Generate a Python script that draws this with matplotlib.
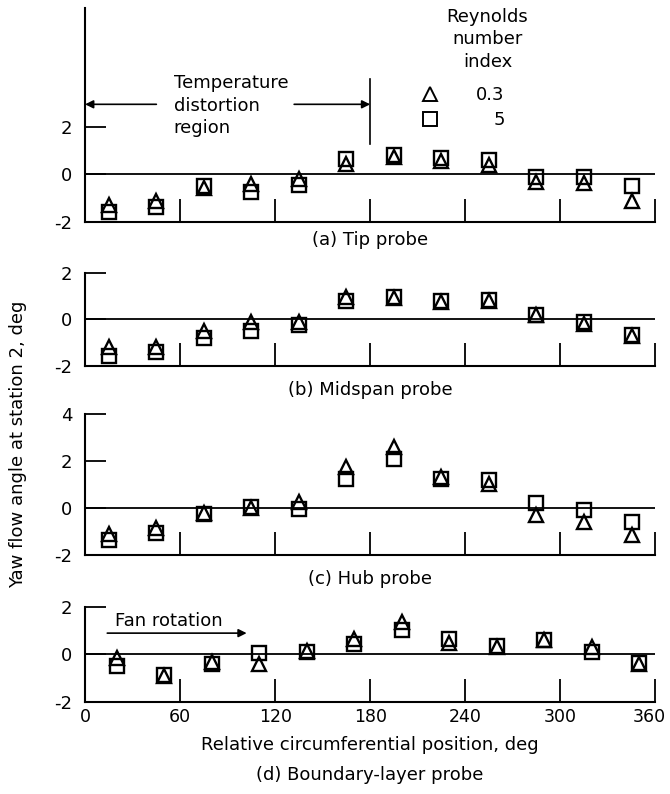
import matplotlib
matplotlib.use('Agg')
import matplotlib.pyplot as plt
from matplotlib.transforms import ScaledTranslation
import numpy as np

plt.rcParams['font.family'] = ['DejaVu Sans']
plt.rcParams['font.size'] = 13
plt.rcParams['axes.unicode_minus'] = False

# probe positions, deg
pos_abc = [15, 45, 75, 105, 135, 165, 195, 225, 255, 285, 315, 345]
pos_d = [20, 50, 80, 110, 140, 170, 200, 230, 260, 290, 320, 350]

# yaw angles, Reynolds number index 0.3 (triangles) and 0.5 (squares)
tip_03 = [-1.3, -1.1, -0.55, -0.4, -0.2, 0.45, 0.75, 0.55, 0.4, -0.3, -0.35, -1.1]
tip_05 = [-1.6, -1.35, -0.5, -0.75, -0.45, 0.65, 0.8, 0.7, 0.6, -0.1, -0.1, -0.5]
mid_03 = [-1.2, -1.2, -0.5, -0.1, -0.1, 0.95, 0.9, 0.75, 0.8, 0.2, -0.2, -0.7]
mid_05 = [-1.55, -1.4, -0.8, -0.5, -0.25, 0.8, 0.95, 0.8, 0.85, 0.2, -0.1, -0.65]
hub_03 = [-1.1, -0.85, -0.2, 0.0, 0.25, 1.75, 2.6, 1.3, 1.0, -0.3, -0.6, -1.15]
hub_05 = [-1.35, -1.05, -0.25, 0.05, -0.05, 1.25, 2.1, 1.25, 1.2, 0.2, -0.1, -0.6]
bl_03 = [-0.15, -0.9, -0.3, -0.4, 0.15, 0.65, 1.35, 0.5, 0.3, 0.6, 0.3, -0.4]
bl_05 = [-0.5, -0.85, -0.4, 0.05, 0.1, 0.45, 1.05, 0.65, 0.35, 0.6, 0.1, -0.35]

xticks = [0, 60, 120, 180, 240, 300, 360]

fig = plt.figure(figsize=(6.7, 7.94), dpi=100)

L, W = 0.127, 0.851
rects = [[L, 0.7204, W, 0.2695], [L, 0.539, W, 0.1175],
         [L, 0.301, W, 0.1776], [L, 0.1159, W, 0.1196]]
ylims = [(-2, 7), (-2, 2), (-2, 4), (-2, 2)]
yticks = [[-2, 0, 2], [-2, 0, 2], [-2, 0, 2, 4], [-2, 0, 2]]
data = [(pos_abc, tip_03, tip_05), (pos_abc, mid_03, mid_05),
        (pos_abc, hub_03, hub_05), (pos_d, bl_03, bl_05)]

axs = []
for i in range(4):
    ax = fig.add_axes(rects[i])
    x, y3, y5 = data[i]
    ax.axhline(0, color='k', lw=1.3)
    ax.plot(x, y5, 's', ms=9.5, mfc='none', mec='k', mew=1.7, clip_on=False)
    ax.plot(x, y3, '^', ms=9.5, mfc='none', mec='k', mew=1.7, clip_on=False)
    ax.set_xlim(0, 360)
    ax.set_ylim(*ylims[i])
    ax.spines['top'].set_visible(False)
    ax.spines['right'].set_visible(False)
    ax.spines['left'].set_linewidth(1.5)
    ax.spines['bottom'].set_linewidth(1.5)
    ax.set_xticks(xticks)
    ax.set_yticks(yticks[i])
    ax.set_yticklabels([str(t) for t in yticks[i]])
    ax.tick_params(axis='x', direction='in', length=16.5, width=1.3)
    ax.tick_params(axis='y', direction='in', length=15, width=1.3, pad=9)
    if i < 3:
        ax.set_xticklabels([])
    else:
        ax.set_xticklabels([str(t) for t in xticks], fontsize=12.5)
        ax.tick_params(axis='x', pad=4)
    axs.append(ax)

# keep the last x label inside the figure
lab = axs[3].get_xticklabels()[-1]
lab.set_transform(lab.get_transform() + ScaledTranslation(-4 / 72, 0, fig.dpi_scale_trans))

# (a) annotations
ax = axs[0]
ax.annotate('', xy=(0, 2.95), xytext=(45, 2.95),
            arrowprops=dict(arrowstyle='-|>', color='k', lw=1.2, mutation_scale=12, shrinkA=0, shrinkB=0))
ax.annotate('', xy=(180, 2.95), xytext=(132, 2.95),
            arrowprops=dict(arrowstyle='-|>', color='k', lw=1.2, mutation_scale=12, shrinkA=0, shrinkB=0))
ax.plot([180, 180], [1.3, 4.0], color='k', lw=1.2)
ax.text(56, 2.9, 'Temperature\ndistortion\nregion', ha='left', va='center', linespacing=1.35)
ax.text(254, 5.68, 'Reynolds\nnumber\nindex', ha='center', va='center', linespacing=1.3)
ax.plot([218], [3.4], '^', ms=10, mfc='none', mec='k', mew=1.4)
ax.plot([218], [2.35], 's', ms=9.5, mfc='none', mec='k', mew=1.4)
ax.text(265, 3.35, '0.3', ha='right', va='center')
ax.text(265, 2.3, '5', ha='right', va='center')

# (d) fan rotation arrow
ax = axs[3]
ax.annotate('', xy=(102, 0.9), xytext=(14, 0.9),
            arrowprops=dict(arrowstyle='-|>', color='k', lw=1.2, mutation_scale=12, shrinkA=0, shrinkB=0))
ax.text(19, 1.4, 'Fan rotation', ha='left', va='center')

cx = 0.552
fig.text(cx, 0.698, '(a) Tip probe', ha='center', va='center')
fig.text(cx, 0.509, '(b) Midspan probe', ha='center', va='center')
fig.text(cx, 0.2705, '(c) Hub probe', ha='center', va='center')
fig.text(cx, 0.0615, 'Relative circumferential position, deg', ha='center', va='center')
fig.text(cx, 0.0235, '(d) Boundary-layer probe', ha='center', va='center')
fig.text(0.027, 0.44, 'Yaw flow angle at station 2, deg', rotation=90, ha='center', va='center')

fig.savefig('out.png', dpi=100)
